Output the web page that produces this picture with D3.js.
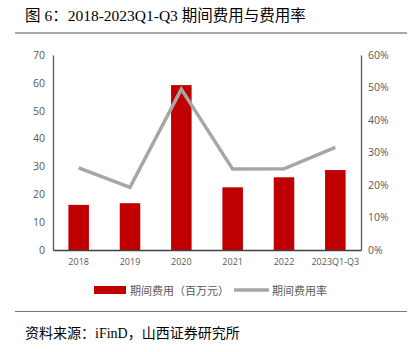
<!DOCTYPE html>
<html>
<head>
<meta charset="utf-8">
<script src="https://cdn.jsdelivr.net/npm/d3@7"></script>
<style>
  body { margin: 0; background: #fff; }
  svg { display: block; }
</style>
</head>
<body>
<div id="chart"></div>
<script>
// Data
const years = ['2018', '2019', '2020', '2021', '2022', '2023Q1-Q3'];
const expenses = [16.2, 16.8, 59.2, 22.5, 26.1, 28.7];   // 百万元
const expenseRate = [0.253, 0.193, 0.495, 0.249, 0.250, 0.316];
const leftTicks = [0, 10, 20, 30, 40, 50, 60, 70];
const rightTicks = [0, 0.1, 0.2, 0.3, 0.4, 0.5, 0.6];

const width = 416, height = 352;
const margin = { top: 55, right: 55, bottom: 102, left: 53 };
const serif = '"Liberation Serif", "Noto Sans CJK SC", serif';
const sans = '"Noto Sans CJK SC", "Open Sans", sans-serif';

const svg = d3.select('#chart').append('svg')
    .attr('width', width)
    .attr('height', height);

// Title and header rule
svg.append('text')
    .attr('x', 25).attr('y', 21)
    .attr('font-family', serif)
    .attr('font-size', 15.5)
    .attr('fill', '#000')
    .text('图 6：2018-2023Q1-Q3 期间费用与费用率');

svg.append('line')
    .attr('x1', 15).attr('x2', 407)
    .attr('y1', 33).attr('y2', 33)
    .attr('stroke', '#555').attr('stroke-width', 1);

const x = d3.scaleBand()
    .domain(years)
    .range([margin.left, width - margin.right])
    .paddingInner(0.6)
    .paddingOuter(0.3);

const y = d3.scaleLinear()
    .domain([0, 70])
    .range([height - margin.bottom, margin.top]);

const y2 = d3.scaleLinear()
    .domain([0, 0.6])
    .range([height - margin.bottom, margin.top]);

// Bars
svg.append('g')
    .attr('fill', '#c00000')
    .selectAll('rect')
    .data(expenses)
    .join('rect')
    .attr('x', (d, i) => x(years[i]))
    .attr('y', d => y(d))
    .attr('width', x.bandwidth())
    .attr('height', d => y(0) - y(d));

// Rate line
const line = d3.line()
    .x((d, i) => x(years[i]) + x.bandwidth() / 2)
    .y(d => y2(d));

svg.append('path')
    .datum(expenseRate)
    .attr('fill', 'none')
    .attr('stroke', '#a6a6a6')
    .attr('stroke-width', 3.5)
    .attr('stroke-linejoin', 'miter')
    .attr('d', line);

// Left axis
const leftAxis = svg.append('g')
    .attr('transform', `translate(${margin.left},0)`)
    .call(d3.axisLeft(y).tickValues(leftTicks).tickSize(0).tickPadding(8));
leftAxis.select('.domain').attr('stroke', '#595959').attr('stroke-width', 1.3);

// Right axis
const rightAxis = svg.append('g')
    .attr('transform', `translate(${width - margin.right},0)`)
    .call(d3.axisRight(y2).tickValues(rightTicks).tickFormat(d3.format('.0%')).tickSize(0).tickPadding(7));
rightAxis.select('.domain').attr('stroke', '#595959').attr('stroke-width', 1.3);

// Bottom axis
const bottomAxis = svg.append('g')
    .attr('transform', `translate(0,${height - margin.bottom})`)
    .call(d3.axisBottom(x).tickSize(0).tickPadding(9));
bottomAxis.select('.domain').attr('stroke', '#404040').attr('stroke-width', 1.3);

svg.selectAll('.tick text')
    .attr('font-family', '"Open Sans", "Liberation Sans", sans-serif')
    .attr('fill', '#595959');
leftAxis.selectAll('.tick text').attr('font-size', 10.5);
rightAxis.selectAll('.tick text').attr('font-size', 10.5);
bottomAxis.selectAll('.tick text').attr('font-size', 9);

// Legend
const legend = svg.append('g').attr('font-family', sans).attr('font-size', 11).attr('fill', '#595959');
legend.append('rect')
    .attr('x', 94).attr('y', 286)
    .attr('width', 32).attr('height', 8)
    .attr('fill', '#c00000');
legend.append('text')
    .attr('x', 130).attr('y', 294.5)
    .text('期间费用（百万元）');
legend.append('line')
    .attr('x1', 234).attr('x2', 269)
    .attr('y1', 290).attr('y2', 290)
    .attr('stroke', '#a6a6a6').attr('stroke-width', 3.5);
legend.append('text')
    .attr('x', 272).attr('y', 294.5)
    .text('期间费用率');

// Footer rule and source
svg.append('line')
    .attr('x1', 15).attr('x2', 407)
    .attr('y1', 311.5).attr('y2', 311.5)
    .attr('stroke', '#777').attr('stroke-width', 1);

svg.append('text')
    .attr('x', 25).attr('y', 338)
    .attr('font-family', serif)
    .attr('font-size', 14)
    .attr('fill', '#000')
    .text('资料来源：iFinD，山西证券研究所');
</script>
</body>
</html>
